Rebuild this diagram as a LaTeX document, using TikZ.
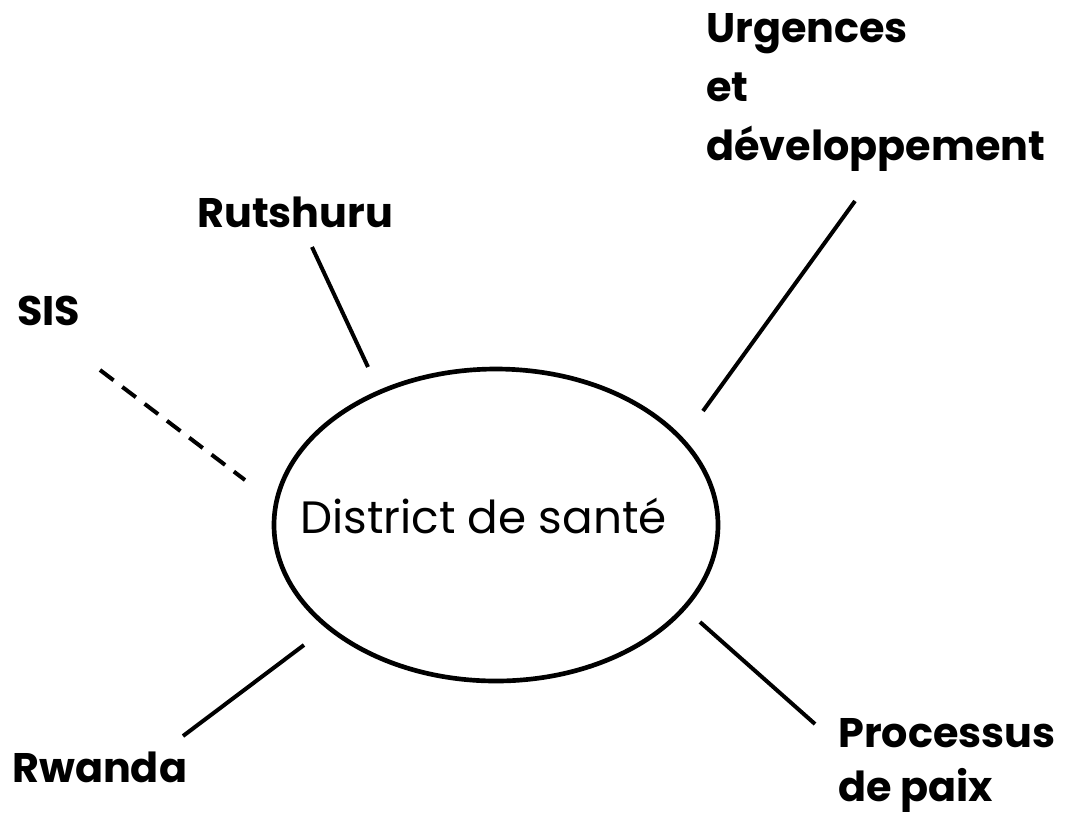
\documentclass[tikz,border=0pt]{standalone}
\usepackage{fontspec}
\setmainfont{Poppins}
\usetikzlibrary{shapes.geometric}
\begin{document}
\begin{tikzpicture}[x=0.75pt,y=-0.75pt,
  lbl/.style={font={\fontsize{31}{44}\selectfont\bfseries}, inner sep=0pt, align=left, anchor=base west},
  conn/.style={line width=3pt},
  dconn/.style={line width=3pt, dash pattern=on 12.75pt off 8.25pt}]
\useasboundingbox (0,0) rectangle (1087,819);
\node[ellipse, draw, line width=3.5pt, inner sep=0pt, minimum width=333pt, minimum height=234pt] (ds) at (496,525) {};
\node[inner sep=0pt, anchor=base, font={\fontsize{34}{41}\selectfont}] (dstext) at (483.5,533) {District de santé};
\node[lbl] (urg) at (706,160) {Urgences\\et\\développement};
\node[lbl] (rut) at (197,227) {Rutshuru};
\node[lbl] (sis) at (17,325) {SIS};
\node[lbl] (rwa) at (12,782) {Rwanda};
\node[lbl, font={\fontsize{31}{40}\selectfont\bfseries}] (pro) at (838,801) {Processus\\de paix};
\coordinate (u1) at (855,201); \coordinate (u2) at (703,411);
\coordinate (r1) at (312,247); \coordinate (r2) at (368,367);
\coordinate (s1) at (100,370); \coordinate (s2) at (245,480);
\coordinate (w1) at (304,645); \coordinate (w2) at (183,736);
\coordinate (p1) at (700,622); \coordinate (p2) at (815,724);
\draw[conn] (u1) -- (u2);
\draw[conn] (r1) -- (r2);
\draw[dconn] (s1) -- (s2);
\draw[conn] (w1) -- (w2);
\draw[conn] (p1) -- (p2);
\end{tikzpicture}
\end{document}
